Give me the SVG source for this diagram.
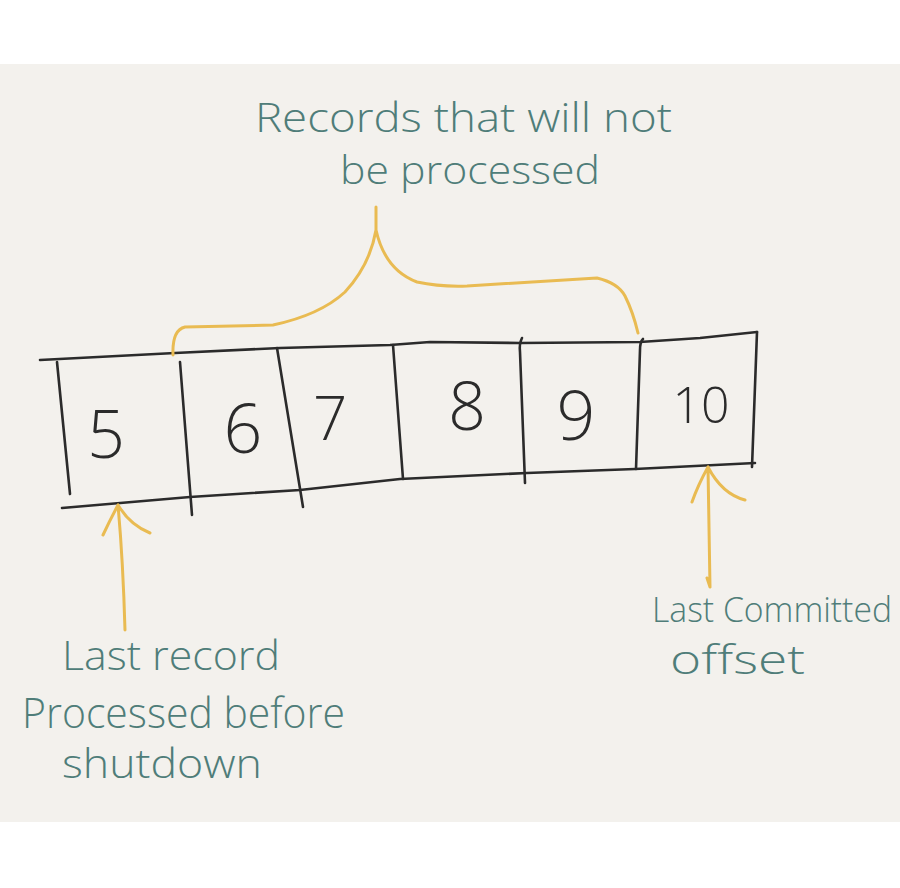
<svg xmlns="http://www.w3.org/2000/svg" width="900" height="888" viewBox="0 0 900 888">
<defs>
<style>
.ink{fill:none;stroke:#2b2b2b;stroke-width:2.6;stroke-linecap:round;stroke-linejoin:round}
.hl{fill:none;stroke:#e9bb52;stroke-width:3;stroke-linecap:round;stroke-linejoin:round}
.dg{font-family:"Open Sans","DejaVu Sans",sans-serif;font-weight:300;fill:#2b2b2b;text-anchor:middle}
.lb{font-family:"Open Sans","Liberation Sans",sans-serif;font-weight:300;fill:#4f7d79}
</style>
</defs>
<rect x="0" y="0" width="900" height="888" fill="#ffffff"/>
<rect x="0" y="64" width="900" height="758" fill="#f3f1ed"/>

<g id="strip">
<path class="ink" d="M40,360 L175,353 L280,348 L390,345 L430,342 L520,343 L640,342 L700,338 L757,332"/>
<path class="ink" d="M62,508 L190,497 L300,490 L400,479 L527,473 L635,469 L755,463"/>
<path class="ink" d="M57,362 L70,494"/>
<path class="ink" d="M180,362 L192,515"/>
<path class="ink" d="M277,348 L303,507"/>
<path class="ink" d="M393,345 L403,479"/>
<path class="ink" d="M522,338 Q519,344 520,352 L525,483"/>
<path class="ink" d="M643,339 Q640,342 640,350 L636,469"/>
<path class="ink" d="M757,332 L752,467"/>
</g>

<g id="cell-5"><text class="dg" x="106" y="458" font-size="66">5</text></g>
<g id="cell-6"><text class="dg" x="243" y="453" font-size="68">6</text></g>
<g id="cell-7"><text class="dg" x="330" y="440" font-size="60">7</text></g>
<g id="cell-8"><text class="dg" x="467" y="430" font-size="66">8</text></g>
<g id="cell-9"><text class="dg" x="576" y="440" font-size="68">9</text></g>
<g id="cell-10"><text class="dg" x="701" y="423" font-size="50">10</text></g>

<g id="label-top">
<text class="lb" x="255" y="132" font-size="40" textLength="417" lengthAdjust="spacingAndGlyphs">Records that will not</text>
<text class="lb" x="340" y="184" font-size="38" textLength="260" lengthAdjust="spacingAndGlyphs">be processed</text>
</g>

<g id="label-left">
<text class="lb" x="62" y="670" font-size="40" textLength="218" lengthAdjust="spacingAndGlyphs">Last record</text>
<text class="lb" x="22" y="728" font-size="42" textLength="323" lengthAdjust="spacingAndGlyphs">Processed before</text>
<text class="lb" x="62" y="778" font-size="40" textLength="200" lengthAdjust="spacingAndGlyphs">shutdown</text>
</g>

<g id="label-right">
<text class="lb" x="652" y="622" font-size="34" textLength="240" lengthAdjust="spacingAndGlyphs">Last Committed</text>
<text class="lb" x="670" y="674" font-size="40" textLength="135" lengthAdjust="spacingAndGlyphs">offset</text>
</g>

<g id="connectors">
<path class="hl" d="M173,355 Q172,330 185,327 L273,325 Q320,315 345,292 Q370,265 376,230 L376,207 M376,230 Q385,270 417,282 Q440,287 467,286 L597,278 Q618,283 625,296 Q633,312 638,333"/>
<path class="hl" d="M125,630 Q123,560 118,505 M118,505 Q110,520 103,535 M118,505 Q130,525 150,533"/>
<path class="hl" d="M710,587 L708,467 M708,467 Q698,485 692,502 M708,467 Q722,494 745,500 M710,587 L707,578"/>
</g>
</svg>
